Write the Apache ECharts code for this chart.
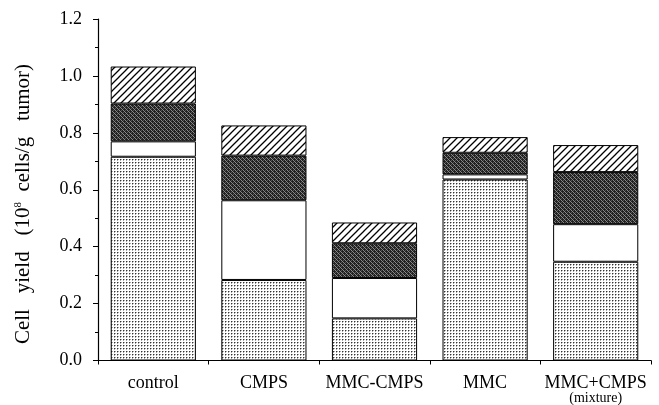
<!DOCTYPE html>
<html>
<head>
<meta charset="utf-8">
<script src="https://cdn.jsdelivr.net/npm/echarts@6/dist/echarts.min.js"></script>
<style>html,body{margin:0;padding:0;background:#fff}#c{width:659px;height:405px}</style>
</head>
<body>
<div id="c"></div>
<script>
var categories = ['control', 'CMPS', 'MMC-CMPS', 'MMC', 'MMC+CMPS\n(mixture)'];
var lightDotted = [0.716, 0.283, 0.148, 0.636, 0.347];
var whiteSeg    = [0.054, 0.280, 0.142, 0.018, 0.132];
var darkSeg     = [0.133, 0.157, 0.122, 0.076, 0.183];
var hatchedSeg  = [0.130, 0.106, 0.073, 0.055, 0.095];
var yTicks = [0, 0.2, 0.4, 0.6, 0.8, 1.0, 1.2];

function makeTile(w, h, draw) {
  var c = document.createElement('canvas');
  c.width = w; c.height = h;
  var ctx = c.getContext('2d');
  draw(ctx);
  return c;
}
var lightTile = makeTile(3, 3, function (ctx) {
  ctx.fillStyle = '#ffffff'; ctx.fillRect(0, 0, 3, 3);
  ctx.fillStyle = '#a8a8a8'; ctx.fillRect(1, 0, 1, 1); ctx.fillRect(0, 1, 1, 1);
  ctx.fillStyle = '#333'; ctx.fillRect(0, 0, 1, 1);
});
var darkTile = makeTile(4, 4, function (ctx) {
  ctx.fillStyle = '#222'; ctx.fillRect(0, 0, 4, 4);
  ctx.fillStyle = '#8a8a8a';
  ctx.fillRect(1, 0, 1, 1); ctx.fillRect(3, 2, 1, 1);
  ctx.fillRect(0, 3, 1, 1); ctx.fillRect(2, 1, 1, 1);
  ctx.fillStyle = '#555';
  ctx.fillRect(3, 0, 1, 1); ctx.fillRect(1, 2, 1, 1);
});
var hatchTile = makeTile(7, 7, function (ctx) {
  ctx.fillStyle = '#ffffff'; ctx.fillRect(0, 0, 7, 7);
  ctx.strokeStyle = '#000'; ctx.lineWidth = 1.3;
  ctx.beginPath();
  ctx.moveTo(-1, 8); ctx.lineTo(8, -1);
  ctx.moveTo(-8, 8); ctx.lineTo(1, -1);
  ctx.moveTo(6, 8); ctx.lineTo(15, -1);
  ctx.stroke();
});

function seg(name, data, fill) {
  return {
    name: name, type: 'bar', stack: 'total', data: data,
    barWidth: '77%',
    itemStyle: { color: fill, borderColor: '#000', borderWidth: 1 },
    emphasis: { disabled: true }
  };
}

var serif = '"Liberation Serif", "DejaVu Serif", serif';
var chart = echarts.init(document.getElementById('c'), null, { renderer: 'canvas' });
chart.setOption({
  animation: false,
  backgroundColor: '#fff',
  grid: { left: 98, right: 8, top: 19, bottom: 43, containLabel: false },
  graphic: [{
    type: 'text', x: 23, y: 204, rotation: Math.PI / 2,
    style: {
      text: '{a|Cell   yield   (10}{sup|8}{a|  cells/g   tumor)}',
      align: 'center', verticalAlign: 'middle',
      rich: {
        a: { fontFamily: serif, fontSize: 21, fill: '#000', color: '#000' },
        sup: { fontFamily: serif, fontSize: 11, verticalAlign: 'top', fill: '#000', color: '#000' }
      }
    }
  }],
  xAxis: {
    type: 'category', data: categories,
    axisLine: { lineStyle: { color: '#000', width: 1.2 } },
    axisTick: { show: true, alignWithLabel: false, length: 4, lineStyle: { color: '#000' } },
    axisLabel: {
      interval: 0, margin: 14,
      formatter: function (v) {
        var p = v.split('\n');
        return p.length > 1 ? '{a|' + p[0] + '}\n{s|' + p[1] + '}' : '{a|' + v + '}';
      },
      rich: {
        a: { fontFamily: serif, fontSize: 18, lineHeight: 17, color: '#000' },
        s: { fontFamily: serif, fontSize: 14, lineHeight: 13, color: '#000' }
      }
    }
  },
  yAxis: {
    type: 'value', min: 0, max: 1.2, interval: 0.2,
    axisLine: { show: true, lineStyle: { color: '#000', width: 1.2 } },
    axisTick: { show: true, length: 5, lineStyle: { color: '#000' } },
    minorTick: { show: true, splitNumber: 2, length: 3, lineStyle: { color: '#000' } },
    splitLine: { show: false },
    axisLabel: {
      color: '#000', fontFamily: serif, fontSize: 18, margin: 16,
      formatter: function (v) { return v.toFixed(1); }
    }
  },
  series: [
    seg('light', lightDotted, { image: lightTile, repeat: 'repeat' }),
    seg('white', whiteSeg, '#ffffff'),
    seg('dark', darkSeg, { image: darkTile, repeat: 'repeat' }),
    seg('hatched', hatchedSeg, { image: hatchTile, repeat: 'repeat' })
  ]
});
</script>
</body>
</html>
